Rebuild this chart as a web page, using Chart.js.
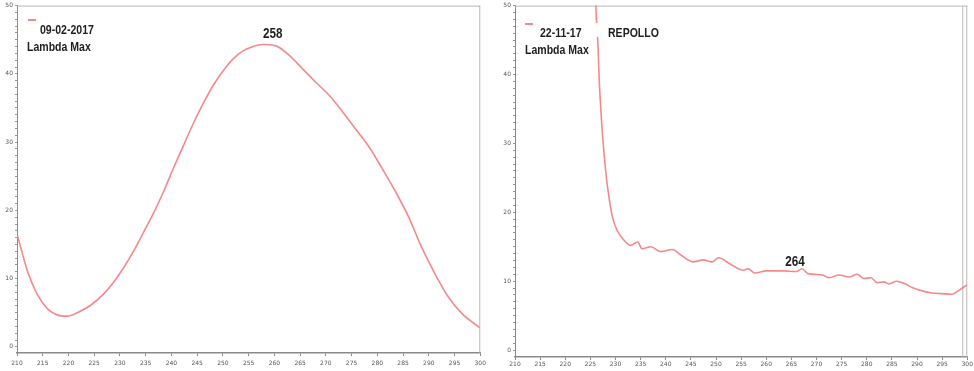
<!DOCTYPE html>
<html>
<head>
<meta charset="utf-8">
<script src="https://cdn.jsdelivr.net/npm/chart.js@4.4.1/dist/chart.umd.min.js"></script>
<style>
  html, body { margin: 0; padding: 0; background: #fff; }
  #wrap { position: relative; width: 974px; height: 371px; overflow: hidden; }
  #c1 { position: absolute; left: 0; top: 0; }
  #c2 { position: absolute; left: 490px; top: 0; }
</style>
</head>
<body>
<div id="wrap">
  <canvas id="c1" width="490" height="371"></canvas>
  <canvas id="c2" width="484" height="371"></canvas>
</div>
<script>
// ---- data ----
const xTicks = [210, 215, 220, 225, 230, 235, 240, 245, 250, 255, 260, 265, 270, 275, 280, 285, 290, 295, 300];
const yTicks = [0, 10, 20, 30, 40, 50];

const leftWavelength = [210.1, 212.0, 214.0, 215.9, 217.9, 219.8, 221.7, 224.3, 226.9, 228.8, 230.8, 232.7, 234.6, 236.6, 238.5, 240.4, 242.4, 244.3, 246.2, 248.2, 250.1, 252.0, 254.0, 255.9, 257.7, 260.3, 262.9, 265.4, 268.0, 270.6, 273.2, 275.7, 278.3, 280.9, 283.5, 286.1, 288.6, 291.2, 293.8, 296.4, 299.9];
const leftAbsorbance = [16.3, 11.2, 7.6, 5.6, 4.65, 4.5, 5.0, 6.1, 7.8, 9.5, 11.7, 14.1, 16.8, 19.7, 22.8, 26.2, 29.6, 32.8, 35.7, 38.4, 40.5, 42.2, 43.4, 44.0, 44.3, 44.1, 42.7, 40.8, 38.8, 36.9, 34.5, 32.0, 29.4, 26.2, 22.8, 19.0, 14.6, 10.7, 7.3, 4.9, 2.8];
const leftLegend = ['09-02-2017', 'Lambda Max'];
const leftPeakLabel = { text: '258', x: 259.7, y: 45.8 };

const rightWavelength = [225.6, 226.1, 226.5, 226.8, 227.4, 228.1, 228.8, 229.4, 230.3, 231.4, 233.0, 234.4, 235.3, 237.0, 239.0, 241.3, 243.0, 245.5, 247.5, 249.2, 250.5, 252.8, 255.4, 256.4, 257.7, 260.0, 263.3, 266.0, 267.1, 268.3, 271.2, 272.5, 274.5, 276.5, 278.1, 279.4, 280.8, 282.1, 283.4, 284.4, 286.0, 287.4, 289.0, 291.0, 293.0, 294.9, 296.9, 298.2, 300];
const rightAbsorbance = [70, 50, 44.4, 38.6, 31.4, 25.6, 21.7, 19.3, 17.4, 16.2, 15.2, 15.7, 14.7, 15.0, 14.3, 14.6, 13.8, 12.8, 13.1, 12.8, 13.4, 12.5, 11.6, 11.8, 11.2, 11.5, 11.5, 11.4, 11.8, 11.1, 10.9, 10.5, 10.9, 10.6, 11.0, 10.4, 10.5, 9.8, 9.9, 9.6, 10.0, 9.7, 9.1, 8.6, 8.3, 8.2, 8.1, 8.6, 9.5];
const rightLegend = ['22-11-17', 'Lambda Max'];
const rightSample = 'REPOLLO';
const rightPeakLabel = { text: '264', x: 265.7, y: 12.8 };

const LINE = '#f4898b';
const TXT = '#1e1e1e';
const FONT = '"Liberation Sans", Arial, sans-serif';
const SQUEEZE = 0.78;

function toPts(xs, ys) { return xs.map((x, i) => ({ x: x, y: ys[i] })); }

function narrowText(ctx, s, x, y, align) {
  ctx.save();
  ctx.translate(x, y);
  ctx.scale(SQUEEZE, 1);
  ctx.textAlign = align;
  ctx.fillText(s, 0, 0);
  ctx.restore();
}

function framePlugin(opts) {
  return {
    id: 'frame',
    beforeDatasetsDraw(chart) {
      const a = chart.chartArea, ctx = chart.ctx;
      ctx.save();
      ctx.strokeStyle = '#b8b8b8';
      ctx.lineWidth = 1;
      ctx.beginPath();
      ctx.moveTo(a.left, a.top + 0.5); ctx.lineTo(a.right, a.top + 0.5);
      ctx.moveTo(a.right - 0.5, a.top); ctx.lineTo(a.right - 0.5, a.bottom);
      if (opts.doubleRight) { ctx.moveTo(a.right - 4.5, a.top); ctx.lineTo(a.right - 4.5, a.bottom); }
      ctx.stroke();
      ctx.restore();
    },
    afterDatasetsDraw(chart) {
      const ctx = chart.ctx, xs = chart.scales.x, ys = chart.scales.y;
      ctx.save();
      ctx.strokeStyle = LINE; ctx.lineWidth = 2;
      ctx.beginPath(); ctx.moveTo(opts.mark[0], opts.mark[1]); ctx.lineTo(opts.mark[0] + 8, opts.mark[1]); ctx.stroke();
      if (opts.cover) { ctx.fillStyle = '#fff'; ctx.fillRect(opts.cover[0], opts.cover[1], opts.cover[2], opts.cover[3]); }
      ctx.font = 'bold 13.5px ' + FONT;
      ctx.textBaseline = 'middle';
      ctx.fillStyle = TXT;
      opts.texts.forEach(t => narrowText(ctx, t.s, t.x, t.y, 'left'));
      ctx.font = 'bold 15px ' + FONT;
      narrowText(ctx, opts.peak.text, xs.getPixelForValue(opts.peak.x), ys.getPixelForValue(opts.peak.y), 'center');
      ctx.restore();
    }
  };
}

function makeChart(id, pts, cfg) {
  return new Chart(document.getElementById(id), {
    type: 'line',
    data: { datasets: [{ data: pts, borderColor: LINE, borderWidth: 1.6, pointRadius: 0, fill: false,
      tension: 0.4, cubicInterpolationMode: 'monotone' }] },
    options: {
      responsive: false, animation: false,
      layout: { padding: { left: 0, right: cfg.padRight, top: cfg.padTop, bottom: 0 } },
      plugins: { legend: { display: false }, tooltip: { enabled: false } },
      scales: {
        x: {
          type: 'linear', min: 210, max: 300,
          afterBuildTicks: s => { s.ticks = xTicks.map(v => ({ value: v })); },
          afterFit: s => { s.height = cfg.xHeight; },
          grid: { drawOnChartArea: false, tickLength: 3, color: '#888' },
          border: { color: '#8a8a8a', width: 1.5 },
          ticks: { font: { size: 6, family: 'DejaVu Sans' }, color: '#555', padding: cfg.xPad, maxRotation: 0, autoSkip: false }
        },
        y: {
          type: 'linear', min: cfg.yMin, max: 50,
          afterBuildTicks: s => { const t = []; for (let v = 0; v <= 50; v++) t.push({ value: v }); s.ticks = t; },
          afterFit: s => { s.width = cfg.yWidth; },
          grid: { drawOnChartArea: false, tickLength: 2, color: '#999' },
          border: { color: '#8a8a8a', width: 1 },
          ticks: { font: { size: 6, family: 'DejaVu Sans' }, color: '#555', padding: 2, autoSkip: false,
            callback: v => yTicks.includes(v) ? String(v) : '' }
        }
      }
    },
    plugins: [framePlugin(cfg.frame)]
  });
}

makeChart('c1', toPts(leftWavelength, leftAbsorbance), {
  padRight: 8, padTop: 4, xHeight: 18, xPad: 4, yWidth: 17, yMin: -0.9,
  frame: { mark: [28, 20], texts: [{ s: leftLegend[0], x: 40, y: 30 }, { s: leftLegend[1], x: 27, y: 47 }], peak: leftPeakLabel, doubleRight: false }
});

makeChart('c2', toPts(rightWavelength, rightAbsorbance), {
  padRight: 5, padTop: 5, xHeight: 14, xPad: 1, yWidth: 25, yMin: -1,
  frame: { mark: [35, 24], texts: [{ s: rightLegend[0], x: 50, y: 33 }, { s: rightLegend[1], x: 35, y: 50 }, { s: rightSample, x: 118, y: 33 }],
    cover: [46, 23, 124, 14], peak: rightPeakLabel, doubleRight: true }
});
</script>
</body>
</html>
